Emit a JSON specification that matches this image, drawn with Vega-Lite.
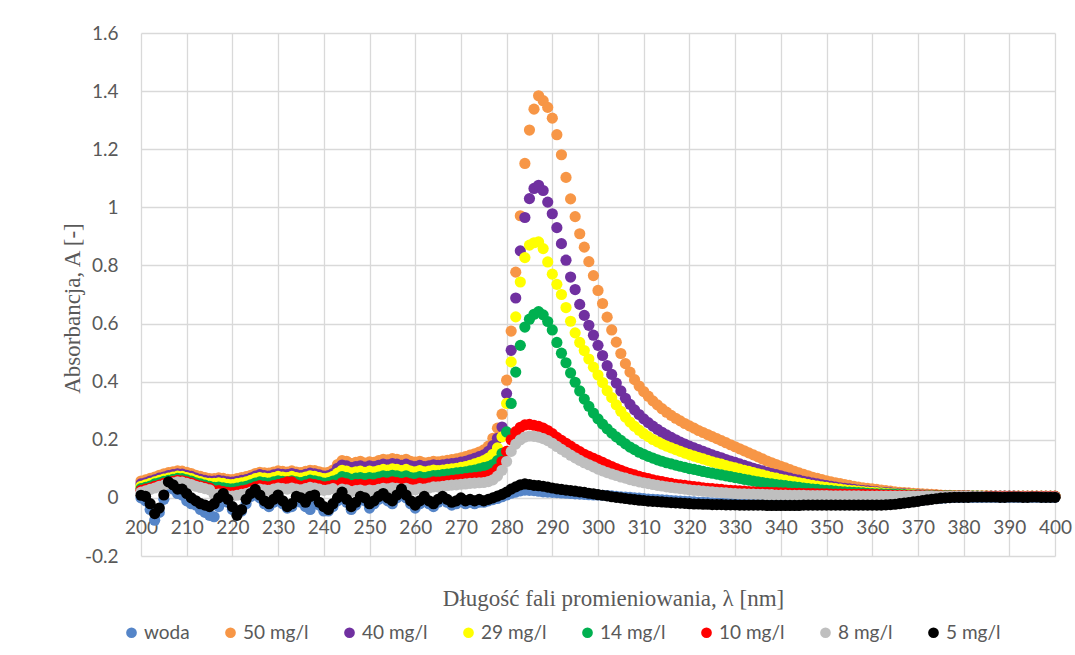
{
"$schema": "https://vega.github.io/schema/vega-lite/v6.json",
"width": 914, "height": 523,
"autosize": {"type": "none"},
"padding": {"left": 141, "top": 33, "right": 20, "bottom": 99},
"background": "white",
"datasets": {
"names": [{"k":"w","name":"woda","i":0},{"k":"o","name":"50 mg/l","i":1},{"k":"p","name":"40 mg/l","i":2},{"k":"y","name":"29 mg/l","i":3},{"k":"g","name":"14 mg/l","i":4},{"k":"r","name":"10 mg/l","i":5},{"k":"s","name":"8 mg/l","i":6},{"k":"k","name":"5 mg/l","i":7}]
},
"data": {"values": [
{"l":200,"w":0,"o":0.058,"p":0.048,"y":0.04,"g":0.032,"r":0.026,"s":0.02,"k":0.009},
{"l":201,"w":-0.01,"o":0.062,"p":0.052,"y":0.045,"g":0.036,"r":0.03,"s":0.024,"k":0.005},
{"l":202,"w":-0.04,"o":0.067,"p":0.058,"y":0.05,"g":0.041,"r":0.034,"s":0.029,"k":-0.02},
{"l":203,"w":-0.077,"o":0.072,"p":0.062,"y":0.055,"g":0.048,"r":0.04,"s":0.034,"k":-0.054},
{"l":204,"w":-0.05,"o":0.078,"p":0.068,"y":0.06,"g":0.052,"r":0.044,"s":0.04,"k":-0.035},
{"l":205,"w":-0.005,"o":0.083,"p":0.072,"y":0.065,"g":0.057,"r":0.05,"s":0.044,"k":0.01},
{"l":206,"w":0.04,"o":0.087,"p":0.077,"y":0.068,"g":0.06,"r":0.053,"s":0.048,"k":0.055},
{"l":207,"w":0.03,"o":0.09,"p":0.08,"y":0.072,"g":0.064,"r":0.057,"s":0.052,"k":0.045},
{"l":208,"w":0.015,"o":0.093,"p":0.083,"y":0.075,"g":0.067,"r":0.06,"s":0.055,"k":0.03},
{"l":209,"w":0.01,"o":0.092,"p":0.082,"y":0.074,"g":0.066,"r":0.059,"s":0.054,"k":0.03},
{"l":210,"w":-0.01,"o":0.088,"p":0.078,"y":0.07,"g":0.062,"r":0.055,"s":0.05,"k":0.015},
{"l":211,"w":-0.02,"o":0.084,"p":0.074,"y":0.066,"g":0.058,"r":0.051,"s":0.046,"k":0},
{"l":212,"w":-0.025,"o":0.078,"p":0.068,"y":0.06,"g":0.052,"r":0.045,"s":0.04,"k":-0.01},
{"l":213,"w":-0.04,"o":0.074,"p":0.064,"y":0.056,"g":0.048,"r":0.041,"s":0.036,"k":-0.02},
{"l":214,"w":-0.05,"o":0.07,"p":0.06,"y":0.052,"g":0.044,"r":0.037,"s":0.032,"k":-0.025},
{"l":215,"w":-0.06,"o":0.066,"p":0.058,"y":0.05,"g":0.04,"r":0.034,"s":0.028,"k":-0.03},
{"l":216,"w":-0.065,"o":0.066,"p":0.058,"y":0.05,"g":0.036,"r":0.024,"s":0.012,"k":-0.02},
{"l":217,"w":-0.03,"o":0.069,"p":0.06,"y":0.052,"g":0.037,"r":0.025,"s":0.013,"k":0},
{"l":218,"w":0.005,"o":0.067,"p":0.058,"y":0.05,"g":0.035,"r":0.022,"s":0.01,"k":0.015},
{"l":219,"w":-0.015,"o":0.064,"p":0.055,"y":0.047,"g":0.032,"r":0.019,"s":0.007,"k":-0.005},
{"l":220,"w":-0.04,"o":0.063,"p":0.054,"y":0.046,"g":0.031,"r":0.018,"s":0.006,"k":-0.03},
{"l":221,"w":-0.05,"o":0.066,"p":0.057,"y":0.049,"g":0.034,"r":0.021,"s":0.009,"k":-0.06},
{"l":222,"w":-0.045,"o":0.07,"p":0.06,"y":0.052,"g":0.037,"r":0.024,"s":0.012,"k":-0.04},
{"l":223,"w":-0.02,"o":0.073,"p":0.063,"y":0.055,"g":0.04,"r":0.027,"s":0.015,"k":-0.005},
{"l":224,"w":0.005,"o":0.078,"p":0.068,"y":0.06,"g":0.045,"r":0.032,"s":0.02,"k":0.015},
{"l":225,"w":0.02,"o":0.084,"p":0.075,"y":0.066,"g":0.051,"r":0.038,"s":0.026,"k":0.029},
{"l":226,"w":0,"o":0.088,"p":0.08,"y":0.07,"g":0.055,"r":0.042,"s":0.03,"k":0.01},
{"l":227,"w":-0.02,"o":0.086,"p":0.077,"y":0.068,"g":0.053,"r":0.04,"s":0.028,"k":-0.01},
{"l":228,"w":-0.03,"o":0.085,"p":0.075,"y":0.066,"g":0.051,"r":0.038,"s":0.026,"k":-0.02},
{"l":229,"w":-0.015,"o":0.089,"p":0.079,"y":0.07,"g":0.055,"r":0.042,"s":0.03,"k":-0.005},
{"l":230,"w":0,"o":0.093,"p":0.083,"y":0.074,"g":0.059,"r":0.046,"s":0.034,"k":0.01},
{"l":231,"w":-0.02,"o":0.091,"p":0.081,"y":0.072,"g":0.057,"r":0.05,"s":0.032,"k":-0.01},
{"l":232,"w":-0.035,"o":0.089,"p":0.08,"y":0.07,"g":0.055,"r":0.055,"s":0.03,"k":-0.03},
{"l":233,"w":-0.03,"o":0.093,"p":0.084,"y":0.074,"g":0.059,"r":0.055,"s":0.034,"k":-0.02},
{"l":234,"w":-0.005,"o":0.089,"p":0.08,"y":0.07,"g":0.055,"r":0.045,"s":0.03,"k":0.005},
{"l":235,"w":-0.015,"o":0.087,"p":0.077,"y":0.068,"g":0.053,"r":0.04,"s":0.028,"k":0},
{"l":236,"w":-0.03,"o":0.091,"p":0.081,"y":0.072,"g":0.057,"r":0.044,"s":0.032,"k":-0.015},
{"l":237,"w":-0.04,"o":0.095,"p":0.085,"y":0.076,"g":0.061,"r":0.048,"s":0.036,"k":0.005},
{"l":238,"w":-0.01,"o":0.094,"p":0.083,"y":0.074,"g":0.059,"r":0.046,"s":0.034,"k":0.01},
{"l":239,"w":-0.025,"o":0.09,"p":0.079,"y":0.07,"g":0.055,"r":0.042,"s":0.03,"k":-0.015},
{"l":240,"w":-0.045,"o":0.086,"p":0.075,"y":0.066,"g":0.051,"r":0.038,"s":0.026,"k":-0.03},
{"l":241,"w":-0.045,"o":0.088,"p":0.077,"y":0.068,"g":0.053,"r":0.04,"s":0.028,"k":-0.04},
{"l":242,"w":-0.03,"o":0.096,"p":0.084,"y":0.074,"g":0.058,"r":0.044,"s":0.032,"k":-0.02},
{"l":243,"w":-0.01,"o":0.115,"p":0.102,"y":0.085,"g":0.063,"r":0.042,"s":0.022,"k":0},
{"l":244,"w":0.005,"o":0.128,"p":0.113,"y":0.095,"g":0.073,"r":0.052,"s":0.03,"k":0.02},
{"l":245,"w":-0.015,"o":0.126,"p":0.11,"y":0.092,"g":0.07,"r":0.048,"s":0.028,"k":-0.005},
{"l":246,"w":-0.04,"o":0.118,"p":0.104,"y":0.086,"g":0.064,"r":0.042,"s":0.022,"k":-0.03},
{"l":247,"w":-0.025,"o":0.122,"p":0.108,"y":0.09,"g":0.068,"r":0.046,"s":0.025,"k":-0.015},
{"l":248,"w":-0.005,"o":0.126,"p":0.11,"y":0.092,"g":0.07,"r":0.047,"s":0.027,"k":0.005},
{"l":249,"w":-0.01,"o":0.12,"p":0.106,"y":0.088,"g":0.066,"r":0.043,"s":0.023,"k":0},
{"l":250,"w":-0.035,"o":0.124,"p":0.11,"y":0.092,"g":0.07,"r":0.047,"s":0.027,"k":-0.02},
{"l":251,"w":-0.02,"o":0.122,"p":0.108,"y":0.09,"g":0.068,"r":0.045,"s":0.025,"k":-0.01},
{"l":252,"w":-0.005,"o":0.128,"p":0.112,"y":0.094,"g":0.072,"r":0.049,"s":0.029,"k":0.005},
{"l":253,"w":0.005,"o":0.133,"p":0.116,"y":0.098,"g":0.076,"r":0.053,"s":0.033,"k":0.015},
{"l":254,"w":-0.01,"o":0.131,"p":0.114,"y":0.096,"g":0.074,"r":0.051,"s":0.031,"k":0},
{"l":255,"w":-0.02,"o":0.135,"p":0.118,"y":0.1,"g":0.078,"r":0.055,"s":0.035,"k":-0.01},
{"l":256,"w":0,"o":0.133,"p":0.116,"y":0.098,"g":0.076,"r":0.053,"s":0.033,"k":0.01},
{"l":257,"w":0.02,"o":0.129,"p":0.112,"y":0.094,"g":0.072,"r":0.049,"s":0.029,"k":0.03},
{"l":258,"w":0,"o":0.133,"p":0.116,"y":0.098,"g":0.076,"r":0.053,"s":0.033,"k":0.01},
{"l":259,"w":-0.02,"o":0.126,"p":0.11,"y":0.092,"g":0.07,"r":0.048,"s":0.028,"k":-0.01},
{"l":260,"w":-0.035,"o":0.123,"p":0.108,"y":0.09,"g":0.069,"r":0.047,"s":0.028,"k":-0.025},
{"l":261,"w":-0.02,"o":0.126,"p":0.112,"y":0.094,"g":0.073,"r":0.051,"s":0.032,"k":-0.01},
{"l":262,"w":-0.005,"o":0.121,"p":0.108,"y":0.09,"g":0.07,"r":0.048,"s":0.03,"k":0.005},
{"l":263,"w":-0.02,"o":0.122,"p":0.11,"y":0.092,"g":0.073,"r":0.051,"s":0.034,"k":-0.01},
{"l":264,"w":-0.03,"o":0.126,"p":0.114,"y":0.096,"g":0.077,"r":0.055,"s":0.038,"k":-0.02},
{"l":265,"w":-0.015,"o":0.124,"p":0.112,"y":0.094,"g":0.078,"r":0.054,"s":0.038,"k":-0.005},
{"l":266,"w":-0.005,"o":0.127,"p":0.114,"y":0.096,"g":0.08,"r":0.056,"s":0.04,"k":0.005},
{"l":267,"w":-0.015,"o":0.129,"p":0.116,"y":0.098,"g":0.082,"r":0.058,"s":0.042,"k":-0.005},
{"l":268,"w":-0.025,"o":0.132,"p":0.118,"y":0.1,"g":0.084,"r":0.06,"s":0.044,"k":-0.015},
{"l":269,"w":-0.02,"o":0.134,"p":0.12,"y":0.102,"g":0.086,"r":0.062,"s":0.045,"k":-0.01},
{"l":270,"w":-0.01,"o":0.138,"p":0.123,"y":0.105,"g":0.088,"r":0.064,"s":0.047,"k":0},
{"l":271,"w":-0.02,"o":0.142,"p":0.126,"y":0.108,"g":0.09,"r":0.066,"s":0.048,"k":-0.01},
{"l":272,"w":-0.015,"o":0.147,"p":0.131,"y":0.112,"g":0.093,"r":0.068,"s":0.05,"k":-0.005},
{"l":273,"w":-0.02,"o":0.152,"p":0.136,"y":0.117,"g":0.096,"r":0.07,"s":0.051,"k":-0.01},
{"l":274,"w":-0.015,"o":0.158,"p":0.142,"y":0.122,"g":0.1,"r":0.072,"s":0.052,"k":-0.005},
{"l":275,"w":-0.015,"o":0.165,"p":0.148,"y":0.128,"g":0.104,"r":0.074,"s":0.053,"k":-0.01},
{"l":276,"w":-0.01,"o":0.178,"p":0.16,"y":0.137,"g":0.108,"r":0.078,"s":0.056,"k":-0.005},
{"l":277,"w":-0.006,"o":0.205,"p":0.18,"y":0.15,"g":0.115,"r":0.085,"s":0.062,"k":0},
{"l":278,"w":-0.002,"o":0.24,"p":0.205,"y":0.172,"g":0.128,"r":0.1,"s":0.075,"k":0.006},
{"l":279,"w":0.004,"o":0.288,"p":0.244,"y":0.21,"g":0.153,"r":0.125,"s":0.095,"k":0.012},
{"l":280,"w":0.01,"o":0.405,"p":0.359,"y":0.325,"g":0.227,"r":0.16,"s":0.125,"k":0.02},
{"l":281,"w":0.016,"o":0.574,"p":0.508,"y":0.468,"g":0.325,"r":0.2,"s":0.16,"k":0.03},
{"l":282,"w":0.02,"o":0.777,"p":0.688,"y":0.623,"g":0.433,"r":0.228,"s":0.185,"k":0.038},
{"l":283,"w":0.024,"o":0.971,"p":0.85,"y":0.743,"g":0.525,"r":0.243,"s":0.2,"k":0.045},
{"l":284,"w":0.027,"o":1.151,"p":0.965,"y":0.827,"g":0.588,"r":0.251,"s":0.209,"k":0.048},
{"l":285,"w":0.026,"o":1.266,"p":1.03,"y":0.87,"g":0.615,"r":0.253,"s":0.213,"k":0.046},
{"l":286,"w":0.025,"o":1.338,"p":1.065,"y":0.878,"g":0.632,"r":0.25,"s":0.212,"k":0.043},
{"l":287,"w":0.023,"o":1.384,"p":1.076,"y":0.881,"g":0.641,"r":0.246,"s":0.209,"k":0.042},
{"l":288,"w":0.021,"o":1.367,"p":1.058,"y":0.858,"g":0.63,"r":0.24,"s":0.204,"k":0.04},
{"l":289,"w":0.02,"o":1.344,"p":1.018,"y":0.812,"g":0.607,"r":0.232,"s":0.197,"k":0.037},
{"l":290,"w":0.019,"o":1.307,"p":0.978,"y":0.77,"g":0.578,"r":0.221,"s":0.188,"k":0.034},
{"l":291,"w":0.018,"o":1.25,"p":0.93,"y":0.735,"g":0.535,"r":0.208,"s":0.177,"k":0.031},
{"l":292,"w":0.017,"o":1.181,"p":0.875,"y":0.7,"g":0.498,"r":0.198,"s":0.167,"k":0.029},
{"l":293,"w":0.016,"o":1.103,"p":0.818,"y":0.655,"g":0.465,"r":0.188,"s":0.157,"k":0.027},
{"l":294,"w":0.015,"o":1.029,"p":0.76,"y":0.608,"g":0.43,"r":0.178,"s":0.147,"k":0.025},
{"l":295,"w":0.014,"o":0.968,"p":0.717,"y":0.568,"g":0.398,"r":0.168,"s":0.138,"k":0.023},
{"l":296,"w":0.013,"o":0.909,"p":0.666,"y":0.535,"g":0.368,"r":0.159,"s":0.129,"k":0.021},
{"l":297,"w":0.012,"o":0.863,"p":0.628,"y":0.507,"g":0.34,"r":0.15,"s":0.121,"k":0.019},
{"l":298,"w":0.011,"o":0.813,"p":0.594,"y":0.478,"g":0.315,"r":0.143,"s":0.114,"k":0.016},
{"l":299,"w":0.01,"o":0.765,"p":0.56,"y":0.45,"g":0.292,"r":0.136,"s":0.107,"k":0.014},
{"l":300,"w":0.01,"o":0.714,"p":0.525,"y":0.423,"g":0.272,"r":0.129,"s":0.099,"k":0.011},
{"l":301,"w":0.009,"o":0.669,"p":0.49,"y":0.397,"g":0.254,"r":0.122,"s":0.093,"k":0.009},
{"l":302,"w":0.008,"o":0.622,"p":0.455,"y":0.369,"g":0.238,"r":0.115,"s":0.087,"k":0.007},
{"l":303,"w":0.007,"o":0.578,"p":0.425,"y":0.345,"g":0.223,"r":0.108,"s":0.082,"k":0.004},
{"l":304,"w":0.005,"o":0.536,"p":0.395,"y":0.32,"g":0.21,"r":0.101,"s":0.077,"k":0.002},
{"l":305,"w":0.004,"o":0.497,"p":0.368,"y":0.298,"g":0.198,"r":0.095,"s":0.072,"k":0},
{"l":306,"w":0.003,"o":0.462,"p":0.343,"y":0.278,"g":0.186,"r":0.089,"s":0.068,"k":-0.002},
{"l":307,"w":0.002,"o":0.433,"p":0.322,"y":0.261,"g":0.175,"r":0.084,"s":0.063,"k":-0.004},
{"l":308,"w":0,"o":0.407,"p":0.303,"y":0.246,"g":0.166,"r":0.079,"s":0.059,"k":-0.006},
{"l":309,"w":-0.001,"o":0.385,"p":0.287,"y":0.233,"g":0.157,"r":0.074,"s":0.055,"k":-0.008},
{"l":310,"w":-0.002,"o":0.366,"p":0.272,"y":0.221,"g":0.15,"r":0.07,"s":0.052,"k":-0.009},
{"l":311,"w":-0.004,"o":0.35,"p":0.259,"y":0.211,"g":0.143,"r":0.066,"s":0.049,"k":-0.011},
{"l":312,"w":-0.005,"o":0.334,"p":0.247,"y":0.201,"g":0.137,"r":0.062,"s":0.046,"k":-0.012},
{"l":313,"w":-0.006,"o":0.32,"p":0.236,"y":0.193,"g":0.131,"r":0.059,"s":0.043,"k":-0.013},
{"l":314,"w":-0.007,"o":0.307,"p":0.226,"y":0.185,"g":0.126,"r":0.056,"s":0.041,"k":-0.014},
{"l":315,"w":-0.008,"o":0.295,"p":0.217,"y":0.178,"g":0.121,"r":0.053,"s":0.038,"k":-0.015},
{"l":316,"w":-0.009,"o":0.284,"p":0.208,"y":0.172,"g":0.117,"r":0.05,"s":0.036,"k":-0.016},
{"l":317,"w":-0.01,"o":0.274,"p":0.2,"y":0.166,"g":0.113,"r":0.047,"s":0.034,"k":-0.017},
{"l":318,"w":-0.011,"o":0.265,"p":0.192,"y":0.16,"g":0.109,"r":0.045,"s":0.032,"k":-0.018},
{"l":319,"w":-0.012,"o":0.256,"p":0.185,"y":0.154,"g":0.105,"r":0.043,"s":0.03,"k":-0.019},
{"l":320,"w":-0.013,"o":0.248,"p":0.178,"y":0.149,"g":0.101,"r":0.041,"s":0.028,"k":-0.02},
{"l":321,"w":-0.014,"o":0.24,"p":0.172,"y":0.144,"g":0.098,"r":0.039,"s":0.026,"k":-0.021},
{"l":322,"w":-0.015,"o":0.232,"p":0.166,"y":0.139,"g":0.095,"r":0.037,"s":0.025,"k":-0.021},
{"l":323,"w":-0.015,"o":0.225,"p":0.16,"y":0.134,"g":0.091,"r":0.035,"s":0.023,"k":-0.022},
{"l":324,"w":-0.016,"o":0.218,"p":0.154,"y":0.129,"g":0.088,"r":0.033,"s":0.022,"k":-0.022},
{"l":325,"w":-0.017,"o":0.211,"p":0.148,"y":0.124,"g":0.085,"r":0.032,"s":0.021,"k":-0.023},
{"l":326,"w":-0.017,"o":0.204,"p":0.143,"y":0.12,"g":0.082,"r":0.03,"s":0.019,"k":-0.023},
{"l":327,"w":-0.018,"o":0.197,"p":0.138,"y":0.116,"g":0.079,"r":0.029,"s":0.018,"k":-0.023},
{"l":328,"w":-0.019,"o":0.19,"p":0.132,"y":0.111,"g":0.076,"r":0.027,"s":0.017,"k":-0.024},
{"l":329,"w":-0.019,"o":0.183,"p":0.127,"y":0.107,"g":0.073,"r":0.026,"s":0.016,"k":-0.024},
{"l":330,"w":-0.02,"o":0.176,"p":0.122,"y":0.103,"g":0.07,"r":0.025,"s":0.015,"k":-0.024},
{"l":331,"w":-0.021,"o":0.169,"p":0.117,"y":0.099,"g":0.067,"r":0.024,"s":0.014,"k":-0.025},
{"l":332,"w":-0.021,"o":0.162,"p":0.112,"y":0.095,"g":0.064,"r":0.023,"s":0.014,"k":-0.025},
{"l":333,"w":-0.022,"o":0.155,"p":0.107,"y":0.091,"g":0.061,"r":0.022,"s":0.013,"k":-0.025},
{"l":334,"w":-0.022,"o":0.148,"p":0.102,"y":0.087,"g":0.058,"r":0.021,"s":0.013,"k":-0.025},
{"l":335,"w":-0.022,"o":0.141,"p":0.097,"y":0.083,"g":0.055,"r":0.02,"s":0.012,"k":-0.025},
{"l":336,"w":-0.022,"o":0.134,"p":0.093,"y":0.079,"g":0.053,"r":0.019,"s":0.012,"k":-0.025},
{"l":337,"w":-0.022,"o":0.127,"p":0.088,"y":0.075,"g":0.05,"r":0.019,"s":0.011,"k":-0.026},
{"l":338,"w":-0.022,"o":0.121,"p":0.084,"y":0.071,"g":0.048,"r":0.018,"s":0.011,"k":-0.026},
{"l":339,"w":-0.022,"o":0.115,"p":0.08,"y":0.068,"g":0.046,"r":0.018,"s":0.01,"k":-0.026},
{"l":340,"w":-0.022,"o":0.109,"p":0.076,"y":0.064,"g":0.044,"r":0.017,"s":0.01,"k":-0.026},
{"l":341,"w":-0.022,"o":0.103,"p":0.072,"y":0.061,"g":0.042,"r":0.017,"s":0.01,"k":-0.026},
{"l":342,"w":-0.022,"o":0.097,"p":0.068,"y":0.058,"g":0.04,"r":0.016,"s":0.009,"k":-0.026},
{"l":343,"w":-0.022,"o":0.091,"p":0.064,"y":0.055,"g":0.038,"r":0.016,"s":0.009,"k":-0.026},
{"l":344,"w":-0.022,"o":0.086,"p":0.061,"y":0.052,"g":0.036,"r":0.016,"s":0.009,"k":-0.026},
{"l":345,"w":-0.022,"o":0.081,"p":0.057,"y":0.049,"g":0.034,"r":0.015,"s":0.009,"k":-0.025},
{"l":346,"w":-0.022,"o":0.076,"p":0.054,"y":0.046,"g":0.032,"r":0.015,"s":0.008,"k":-0.025},
{"l":347,"w":-0.022,"o":0.071,"p":0.051,"y":0.043,"g":0.03,"r":0.015,"s":0.008,"k":-0.025},
{"l":348,"w":-0.022,"o":0.067,"p":0.048,"y":0.041,"g":0.029,"r":0.014,"s":0.008,"k":-0.025},
{"l":349,"w":-0.022,"o":0.063,"p":0.045,"y":0.038,"g":0.027,"r":0.014,"s":0.008,"k":-0.025},
{"l":350,"w":-0.022,"o":0.059,"p":0.042,"y":0.036,"g":0.026,"r":0.014,"s":0.008,"k":-0.025},
{"l":351,"w":-0.022,"o":0.055,"p":0.04,"y":0.034,"g":0.025,"r":0.013,"s":0.007,"k":-0.025},
{"l":352,"w":-0.022,"o":0.052,"p":0.037,"y":0.032,"g":0.023,"r":0.013,"s":0.007,"k":-0.025},
{"l":353,"w":-0.022,"o":0.049,"p":0.035,"y":0.03,"g":0.022,"r":0.013,"s":0.007,"k":-0.025},
{"l":354,"w":-0.022,"o":0.046,"p":0.033,"y":0.028,"g":0.021,"r":0.013,"s":0.007,"k":-0.025},
{"l":355,"w":-0.022,"o":0.043,"p":0.031,"y":0.026,"g":0.02,"r":0.012,"s":0.007,"k":-0.025},
{"l":356,"w":-0.022,"o":0.04,"p":0.029,"y":0.025,"g":0.019,"r":0.012,"s":0.007,"k":-0.025},
{"l":357,"w":-0.022,"o":0.037,"p":0.027,"y":0.023,"g":0.018,"r":0.012,"s":0.007,"k":-0.025},
{"l":358,"w":-0.022,"o":0.035,"p":0.025,"y":0.022,"g":0.017,"r":0.012,"s":0.006,"k":-0.025},
{"l":359,"w":-0.022,"o":0.033,"p":0.024,"y":0.02,"g":0.016,"r":0.011,"s":0.006,"k":-0.025},
{"l":360,"w":-0.022,"o":0.031,"p":0.022,"y":0.019,"g":0.015,"r":0.011,"s":0.006,"k":-0.025},
{"l":361,"w":-0.022,"o":0.029,"p":0.021,"y":0.018,"g":0.014,"r":0.011,"s":0.006,"k":-0.025},
{"l":362,"w":-0.022,"o":0.027,"p":0.019,"y":0.017,"g":0.014,"r":0.01,"s":0.006,"k":-0.025},
{"l":363,"w":-0.021,"o":0.025,"p":0.018,"y":0.016,"g":0.013,"r":0.01,"s":0.006,"k":-0.024},
{"l":364,"w":-0.02,"o":0.023,"p":0.017,"y":0.015,"g":0.013,"r":0.01,"s":0.006,"k":-0.023},
{"l":365,"w":-0.019,"o":0.021,"p":0.016,"y":0.014,"g":0.012,"r":0.009,"s":0.006,"k":-0.022},
{"l":366,"w":-0.017,"o":0.019,"p":0.015,"y":0.013,"g":0.011,"r":0.009,"s":0.006,"k":-0.02},
{"l":367,"w":-0.015,"o":0.018,"p":0.014,"y":0.012,"g":0.011,"r":0.009,"s":0.006,"k":-0.018},
{"l":368,"w":-0.013,"o":0.017,"p":0.013,"y":0.011,"g":0.01,"r":0.008,"s":0.006,"k":-0.016},
{"l":369,"w":-0.011,"o":0.016,"p":0.012,"y":0.011,"g":0.01,"r":0.008,"s":0.006,"k":-0.014},
{"l":370,"w":-0.009,"o":0.015,"p":0.011,"y":0.01,"g":0.009,"r":0.008,"s":0.006,"k":-0.012},
{"l":371,"w":-0.007,"o":0.014,"p":0.01,"y":0.009,"g":0.009,"r":0.008,"s":0.006,"k":-0.009},
{"l":372,"w":-0.005,"o":0.013,"p":0.01,"y":0.009,"g":0.008,"r":0.007,"s":0.006,"k":-0.007},
{"l":373,"w":-0.003,"o":0.012,"p":0.009,"y":0.008,"g":0.008,"r":0.007,"s":0.006,"k":-0.005},
{"l":374,"w":-0.002,"o":0.011,"p":0.009,"y":0.008,"g":0.008,"r":0.007,"s":0.005,"k":-0.003},
{"l":375,"w":-0.001,"o":0.01,"p":0.008,"y":0.008,"g":0.007,"r":0.007,"s":0.005,"k":-0.001},
{"l":376,"w":0,"o":0.009,"p":0.008,"y":0.007,"g":0.007,"r":0.006,"s":0.005,"k":0},
{"l":377,"w":0.001,"o":0.009,"p":0.008,"y":0.007,"g":0.007,"r":0.006,"s":0.005,"k":0.001},
{"l":378,"w":0.002,"o":0.008,"p":0.007,"y":0.007,"g":0.006,"r":0.006,"s":0.005,"k":0.002},
{"l":379,"w":0.002,"o":0.008,"p":0.007,"y":0.006,"g":0.006,"r":0.006,"s":0.005,"k":0.002},
{"l":380,"w":0.002,"o":0.008,"p":0.007,"y":0.006,"g":0.006,"r":0.006,"s":0.005,"k":0.002},
{"l":381,"w":0.002,"o":0.007,"p":0.007,"y":0.006,"g":0.006,"r":0.006,"s":0.005,"k":0.002},
{"l":382,"w":0.002,"o":0.007,"p":0.006,"y":0.006,"g":0.006,"r":0.005,"s":0.005,"k":0.003},
{"l":383,"w":0.002,"o":0.007,"p":0.006,"y":0.006,"g":0.006,"r":0.005,"s":0.005,"k":0.003},
{"l":384,"w":0.002,"o":0.007,"p":0.006,"y":0.006,"g":0.005,"r":0.005,"s":0.005,"k":0.003},
{"l":385,"w":0.002,"o":0.007,"p":0.006,"y":0.006,"g":0.005,"r":0.005,"s":0.004,"k":0.003},
{"l":386,"w":0.002,"o":0.006,"p":0.006,"y":0.005,"g":0.005,"r":0.005,"s":0.004,"k":0.003},
{"l":387,"w":0.002,"o":0.006,"p":0.006,"y":0.005,"g":0.005,"r":0.005,"s":0.004,"k":0.003},
{"l":388,"w":0.002,"o":0.006,"p":0.006,"y":0.005,"g":0.005,"r":0.005,"s":0.004,"k":0.002},
{"l":389,"w":0.002,"o":0.006,"p":0.006,"y":0.005,"g":0.005,"r":0.005,"s":0.004,"k":0.002},
{"l":390,"w":0.002,"o":0.006,"p":0.006,"y":0.005,"g":0.005,"r":0.005,"s":0.004,"k":0.003},
{"l":391,"w":0.002,"o":0.006,"p":0.006,"y":0.005,"g":0.005,"r":0.005,"s":0.004,"k":0.003},
{"l":392,"w":0.002,"o":0.006,"p":0.005,"y":0.005,"g":0.005,"r":0.005,"s":0.004,"k":0.003},
{"l":393,"w":0.002,"o":0.006,"p":0.005,"y":0.005,"g":0.005,"r":0.005,"s":0.004,"k":0.002},
{"l":394,"w":0.002,"o":0.006,"p":0.005,"y":0.005,"g":0.005,"r":0.005,"s":0.004,"k":0.002},
{"l":395,"w":0.002,"o":0.006,"p":0.005,"y":0.005,"g":0.005,"r":0.005,"s":0.004,"k":0.003},
{"l":396,"w":0.002,"o":0.006,"p":0.005,"y":0.005,"g":0.005,"r":0.005,"s":0.004,"k":0.003},
{"l":397,"w":0.002,"o":0.006,"p":0.005,"y":0.005,"g":0.005,"r":0.005,"s":0.004,"k":0.002},
{"l":398,"w":0.002,"o":0.006,"p":0.005,"y":0.005,"g":0.005,"r":0.005,"s":0.004,"k":0.002},
{"l":399,"w":0.002,"o":0.006,"p":0.005,"y":0.005,"g":0.005,"r":0.005,"s":0.004,"k":0.002},
{"l":400,"w":0.002,"o":0.006,"p":0.005,"y":0.005,"g":0.005,"r":0.005,"s":0.004,"k":0.002}
]},
"transform": [
{"fold": ["w","o","p","y","g","r","s","k"], "as": ["key","A"]},
{"lookup": "key", "from": {"data": {"name": "names"}, "key": "k", "fields": ["name","i"]}}
],
"mark": {"type": "point", "filled": true, "opacity": 1, "size": 125, "shape": "circle", "strokeWidth": 0},
"encoding": {
"x": {"field": "l", "type": "quantitative",
 "scale": {"domain": [200, 400], "nice": false, "zero": false},
 "axis": {"values": [200,210,220,230,240,250,260,270,280,290,300,310,320,330,340,350,360,370,380,390,400],
  "offset": -58, "labelPadding": 20, "labelOverlap": false, "labelFlush": false,
  "title": "Długość fali promieniowania, λ [nm]", "titleX": 472, "titleY": 100, "titleAlign": "center", "titleBaseline": "middle", "titleAnchor": null}},
"y": {"field": "A", "type": "quantitative",
 "scale": {"domain": [-0.2, 1.6], "nice": false, "zero": false},
 "axis": {"values": [-0.2,0,0.2,0.4,0.6,0.8,1,1.2,1.4,1.6],
  "labelExpr": "toString(round(datum.value*10)/10)", "labelPadding": 23,
  "title": "Absorbancja, A [-]", "titleX": -69, "titleY": 275, "titleAlign": "center", "titleBaseline": "middle", "titleAngle": -90, "titleAnchor": null}},
"color": {"field": "name", "type": "nominal",
 "scale": {"domain": ["woda","50 mg/l","40 mg/l","29 mg/l","14 mg/l","10 mg/l","8 mg/l","5 mg/l"],
  "range": ["#5585C8","#F79646","#7030A0","#FFFF00","#00B050","#FF0000","#BFBFBF","#000000"]},
 "legend": {"orient": "none", "legendX": -19, "legendY": 590, "direction": "horizontal", "columns": 8, "title": null,
  "symbolType": "circle", "symbolSize": 115, "symbolOpacity": 1, "symbolStrokeWidth": 0,
  "labelFont": "Lato", "labelFontSize": 19, "labelColor": "#595959", "columnPadding": 31, "labelOffset": 3}},
"order": {"field": "i", "type": "quantitative"}
},
"config": {
"view": {"stroke": null},
"axis": {"gridColor": "#D9D9D9", "gridWidth": 1.3, "domain": false, "ticks": false, "tickSize": 0,
 "labelColor": "#595959", "labelFont": "Lato", "labelFontSize": 19,
 "titleFont": "Liberation Serif", "titleFontSize": 23, "titleColor": "#595959", "titleFontWeight": "normal"}
}
}
